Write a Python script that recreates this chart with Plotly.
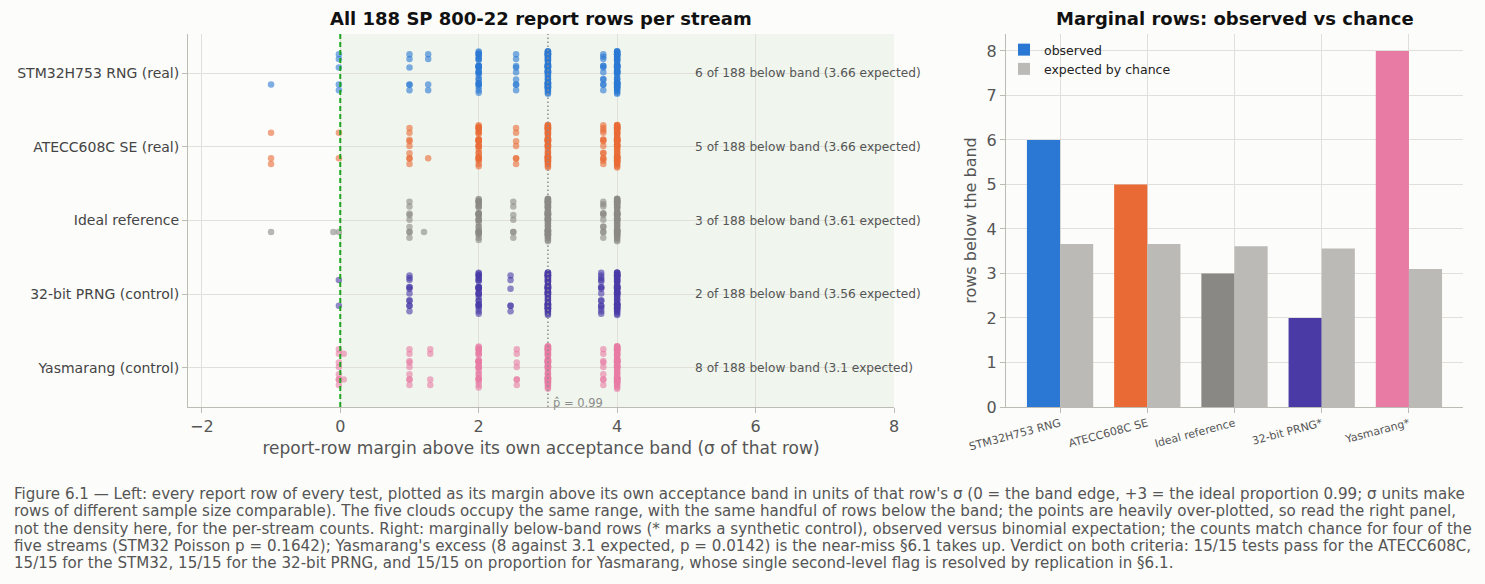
import plotly.graph_objects as go

streams = ["STM32H753 RNG (real)", "ATECC608C SE (real)", "Ideal reference",
           "32-bit PRNG (control)", "Yasmarang (control)"]
bar_labels = ["STM32H753 RNG", "ATECC608C SE", "Ideal reference", "32-bit PRNG*", "Yasmarang*"]
colors = ["#2a78d4", "#e96a35", "#8a8884", "#4a3aa6", "#e87ba3"]

# margin clusters (sigma above the band) and how many of the 188 rows fall in each
stm32_margin = [-1.0, -0.02, 1.0, 1.27, 2.0, 2.54, 3.0, 3.8, 4.0]
stm32_count = [1, 5, 6, 4, 30, 9, 62, 12, 59]
atecc_margin = [-1.0, -0.02, 1.0, 1.27, 2.0, 2.54, 3.0, 3.8, 4.0]
atecc_count = [3, 2, 9, 1, 32, 7, 58, 14, 62]
ideal_margin = [-1.0, -0.1, -0.02, 1.0, 1.21, 2.0, 2.5, 3.0, 3.8, 4.0]
ideal_count = [1, 1, 1, 9, 1, 33, 7, 63, 12, 60]
prng_margin = [-0.02, 1.0, 2.0, 2.46, 3.0, 3.77, 4.0]
prng_count = [2, 12, 30, 6, 62, 16, 60]
yasm_margin = [-0.02, 0.05, 1.0, 1.3, 2.0, 2.55, 3.0, 3.8, 4.0]
yasm_count = [8, 2, 9, 4, 30, 7, 58, 9, 61]

margins = [stm32_margin, atecc_margin, ideal_margin, prng_margin, yasm_margin]
counts = [stm32_count, atecc_count, ideal_count, prng_count, yasm_count]

observed = [6, 5, 3, 2, 8]
expected = [3.66, 3.66, 3.61, 3.56, 3.1]
n_rows = 188

FONT = "DejaVu Sans"
BG = "#fcfcfa"
GRID = "#e0dfd9"
AXIS = "#bdbcb4"
TXT = "#555555"
W, H = 1485, 584

fig = go.Figure()

# strip plot: one invisible box per cluster so plotly's jitter spreads every cluster evenly
for s, c, ms, ns in zip(streams, colors, margins, counts):
    for m, n in zip(ms, ns):
        fig.add_trace(go.Box(
            x=[m] * n, y=[s] * n, orientation="h",
            boxpoints="all", jitter=1, pointpos=0, width=0.6,
            fillcolor="rgba(0,0,0,0)", line=dict(width=0, color="rgba(0,0,0,0)"),
            whiskerwidth=0,
            marker=dict(color=c, size=6.5, opacity=0.6),
            showlegend=False, hoveron="points",
            xaxis="x", yaxis="y"))

# bars
fig.add_trace(go.Bar(x=bar_labels, y=observed, name="observed",
                     marker=dict(color=colors, line=dict(width=0)),
                     xaxis="x2", yaxis="y2"))
fig.add_trace(go.Bar(x=bar_labels, y=expected, name="expected by chance",
                     marker=dict(color="#bbbab6", line=dict(width=0)),
                     xaxis="x2", yaxis="y2"))

shapes = [
    dict(type="rect", xref="x", yref="y domain", x0=0, x1=8, y0=0, y1=1,
         fillcolor="#f0f6ee", line=dict(width=0), layer="below"),
    dict(type="line", xref="x", yref="y domain", x0=0, x1=0, y0=0, y1=1,
         line=dict(color="#1ca51c", width=2, dash="5px,3px")),
    dict(type="line", xref="x", yref="y domain", x0=3, x1=3, y0=0, y1=1,
         line=dict(color="#8c8c8c", width=1.5, dash="1.5px,2.5px")),
]

annotations = []
for s, o, e in zip(streams, observed, expected):
    annotations.append(dict(
        xref="x", yref="y", x=5.1, y=s, text=f"{o} of {n_rows} below band ({e:g} expected)",
        showarrow=False, xanchor="left", yanchor="middle",
        font=dict(family=FONT, size=12.2, color=TXT)))
annotations.append(dict(
    xref="x", yref="y domain", x=3.05, y=0.011, text="p\u0302 = 0.99", showarrow=False,
    xanchor="left", yanchor="middle", font=dict(family=FONT, size=11.5, color="#8c8c8c")))

annotations.append(dict(
    xref="paper", yref="paper", x=541 / W, y=1 - 18 / H,
    text="<b>All 188 SP 800-22 report rows per stream</b>", showarrow=False,
    xanchor="center", yanchor="middle", font=dict(family=FONT, size=18, color="#111111")))
annotations.append(dict(
    xref="paper", yref="paper", x=1235 / W, y=1 - 18 / H,
    text="<b>Marginal rows: observed vs chance</b>", showarrow=False,
    xanchor="center", yanchor="middle", font=dict(family=FONT, size=18, color="#111111")))

caption = [
    "Figure 6.1 \u2014 Left: every report row of every test, plotted as its margin above its own acceptance band in units of that row's \u03c3 (0 = the band edge, +3 = the ideal proportion 0.99; \u03c3 units make",
    "rows of different sample size comparable). The five clouds occupy the same range, with the same handful of rows below the band; the points are heavily over-plotted, so read the right panel,",
    "not the density here, for the per-stream counts. Right: marginally below-band rows (* marks a synthetic control), observed versus binomial expectation; the counts match chance for four of the",
    "five streams (STM32 Poisson p = 0.1642); Yasmarang's excess (8 against 3.1 expected, p = 0.0142) is the near-miss \u00a76.1 takes up. Verdict on both criteria: 15/15 tests pass for the ATECC608C,",
    "15/15 for the STM32, 15/15 for the 32-bit PRNG, and 15/15 on proportion for Yasmarang, whose single second-level flag is resolved by replication in \u00a76.1.",
]
for i, line in enumerate(caption):
    annotations.append(dict(
        xref="paper", yref="paper", x=12 / W, y=1 - (494 + 17.3 * i) / H,
        text=line, showarrow=False, xanchor="left", yanchor="middle",
        font=dict(family=FONT, size=15.1, color=TXT)))

axis_common = dict(showgrid=True, gridcolor=GRID, gridwidth=1, showline=True, linecolor=AXIS,
                   linewidth=1, ticks="outside", ticklen=5, tickcolor=AXIS, zeroline=False)

fig.update_layout(
    width=W, height=H,
    margin=dict(l=0, r=0, t=0, b=0, autoexpand=False),
    paper_bgcolor=BG, plot_bgcolor=BG,
    font=dict(family=FONT, color=TXT),
    barmode="group", bargap=0.24, bargroupgap=0, boxmode="overlay",
    shapes=shapes, annotations=annotations,
    xaxis=dict(domain=[188 / W, 894 / W], anchor="y", range=[-2.2, 8], tick0=0, dtick=2,
               tickfont=dict(size=16, color=TXT),
               title=dict(text="report-row margin above its own acceptance band (\u03c3 of that row)",
                          font=dict(size=17, color=TXT), standoff=6),
               **axis_common),
    yaxis=dict(domain=[1 - 407 / H, 1 - 34 / H], anchor="x", type="category",
               categoryorder="array", categoryarray=streams, range=[4.53, -0.53],
               tickfont=dict(size=14, color="#444444"), **axis_common),
    xaxis2=dict(domain=[1006 / W, 1463 / W], anchor="y2", type="category",
                range=[-0.62, 4.62], tickangle=-15, tickfont=dict(size=11, color=TXT),
                **axis_common),
    yaxis2=dict(domain=[1 - 407 / H, 1 - 34 / H], anchor="x2", range=[0, 8.38], dtick=1,
                tickfont=dict(size=16, color=TXT),
                title=dict(text="rows below the band", font=dict(size=16, color=TXT), standoff=6),
                **axis_common),
    legend=dict(x=1004 / W, y=1 - 35 / H, xanchor="left", yanchor="top",
                bgcolor="rgba(0,0,0,0)", font=dict(size=12.5, color="#222222"),
                tracegroupgap=0),
)

fig.write_html("out.html", config={"displayModeBar": False},
               post_script="document.body.style.margin='0';")
